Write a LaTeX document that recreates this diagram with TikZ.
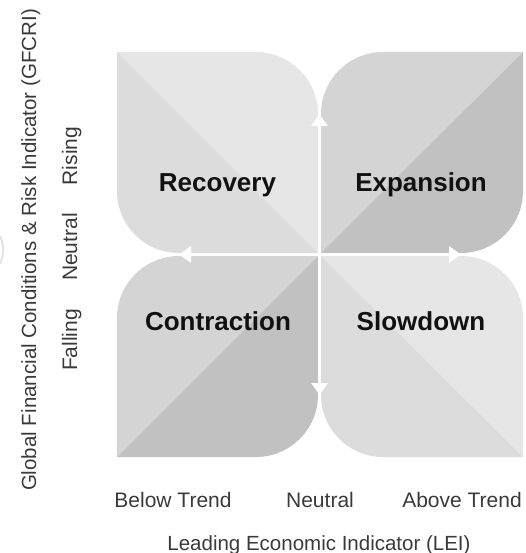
\documentclass[tikz,border=0pt]{standalone}
\usepackage{fontspec}
\setmainfont{Liberation Sans}
\usepackage{tikz}
\usetikzlibrary{arrows.meta}
\usepackage{xcolor}
\definecolor{palest}{HTML}{E6E6E6}
\definecolor{pale}{HTML}{DCDCDC}
\definecolor{mid}{HTML}{D4D4D4}
\definecolor{deep}{HTML}{C1C1C1}
\definecolor{ink}{HTML}{111111}
\definecolor{axisink}{HTML}{3A3A3A}

\tikzset{
  phase/.style={text=ink, anchor=base, font=\bfseries\fontsize{26}{30}\selectfont},
  level/.style={text=axisink, anchor=base, font=\fontsize{21}{25}\selectfont},
  title/.style={text=axisink, anchor=base, font=\fontsize{20.5}{24}\selectfont},
  axis/.style={draw=white, line width=3pt, -{Triangle[width=16pt, length=12pt]}}
}

\begin{document}
\begin{tikzpicture}[x=1pt, y=-1pt]
  \useasboundingbox (0,0) rectangle (526,553);

  % Recovery
  \begin{scope}
    \clip (117,52) -- (256,52) .. controls (290.2,52) and (318,79.8) .. (318,114)
      -- (318,253) -- (179,253) .. controls (144.8,253) and (117,225.2) .. (117,191) -- cycle;
    \fill[palest] (117,52) -- (318,52) -- (318,253) -- cycle;
    \fill[pale] (117,52) -- (117,253) -- (318,253) -- cycle;
  \end{scope}

  % Expansion
  \begin{scope}
    \clip (321,114) .. controls (321,79.8) and (348.8,52) .. (383,52) -- (523,52)
      -- (523,191) .. controls (523,225.2) and (495.2,253) .. (461,253) -- (321,253) -- cycle;
    \fill[mid] (321,52) -- (523,52) -- (321,253) -- cycle;
    \fill[deep] (523,52) -- (523,253) -- (321,253) -- cycle;
  \end{scope}

  % Contraction
  \begin{scope}
    \clip (117,318) .. controls (117,283.8) and (144.8,256) .. (179,256) -- (318,256)
      -- (318,395) .. controls (318,429.2) and (290.2,457) .. (256,457) -- (117,457) -- cycle;
    \fill[mid] (117,256) -- (318,256) -- (117,457) -- cycle;
    \fill[deep] (318,256) -- (318,457) -- (117,457) -- cycle;
  \end{scope}

  % Slowdown
  \begin{scope}
    \clip (321,256) -- (461,256) .. controls (495.2,256) and (523,283.8) .. (523,318)
      -- (523,457) -- (383,457) .. controls (348.8,457) and (321,429.2) .. (321,395) -- cycle;
    \fill[palest] (321,256) -- (523,256) -- (523,457) -- cycle;
    \fill[pale] (321,256) -- (321,457) -- (523,457) -- cycle;
  \end{scope}

  % Axes
  \coordinate (o) at (319.5,254.5);
  \coordinate (n) at (319.5,114);
  \coordinate (s) at (319.5,395);
  \coordinate (w) at (179,254.5);
  \coordinate (e) at (461,254.5);

  \draw[axis] (o) -- (n);
  \draw[axis] (o) -- (s);
  \draw[axis] (o) -- (w);
  \draw[axis] (o) -- (e);

  % Phase labels
  \node[phase] (rec) at (217.5,192) {Recovery};
  \node[phase] (exp) at (421,192) {Expansion};
  \node[phase] (con) at (218,330) {Contraction};
  \node[phase] (slo) at (421,330) {Slowdown};

  % Horizontal axis
  \node[level] (below) at (173,507) {Below Trend};
  \node[level] (mid) at (320,507) {Neutral};
  \node[level] (above) at (462,507) {Above Trend};
  \node[title] (lei) at (319,550) {Leading Economic Indicator (LEI)};

  % Vertical axis
  \node[level, rotate=90] (rising) at (77,156) {Rising};
  \node[level, rotate=90] (neutral) at (77,247) {Neutral};
  \node[level, rotate=90] (falling) at (77,340) {Falling};
  \node[title, rotate=90] (gfcri) at (36,250) {Global Financial Conditions \& Risk Indicator (GFCRI)};

  % cut-off mark at the left edge
  \draw[gray!22, line width=2pt] (0,236) arc[start angle=-25, end angle=25, radius=33];
\end{tikzpicture}
\end{document}
